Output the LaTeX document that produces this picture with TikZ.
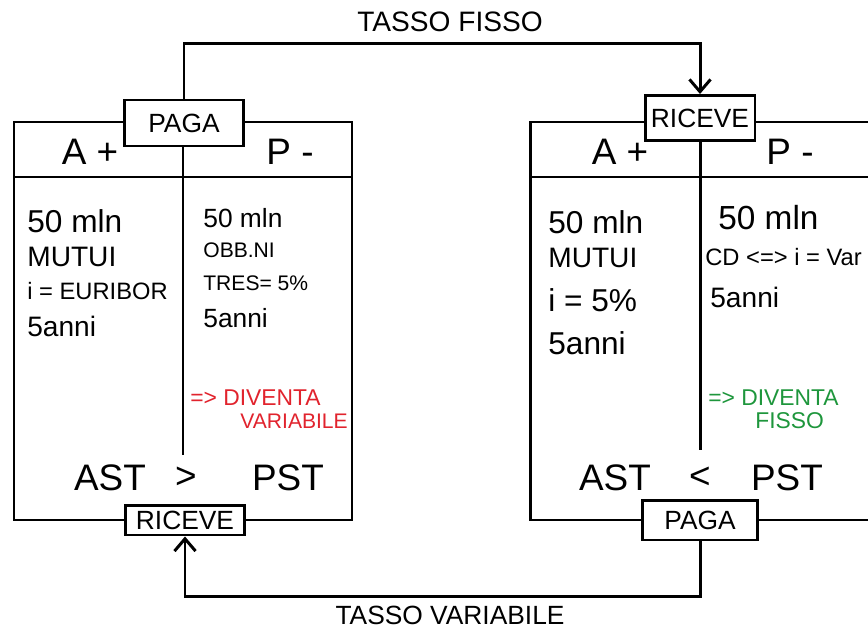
\documentclass[tikz,border=0pt]{standalone}
\usepackage{fontspec}
\setmainfont{Liberation Sans}
\usetikzlibrary{arrows.meta}
\definecolor{redpen}{RGB}{225,35,45}
\definecolor{greenpen}{RGB}{30,150,60}
\begin{document}
\begin{tikzpicture}[x=0.02cm,y=-0.02cm]
		\tikzstyle{frame}=[line width=1.7pt];
		\tikzstyle{tag}=[fill=white, draw=black, line width=1.7pt, inner sep=2pt, font=\fontsize{15}{15}\selectfont];
		\tikzstyle{hdr}=[inner sep=0pt, font=\fontsize{21}{21}\selectfont];
		\tikzstyle{txt}=[anchor=west, inner sep=0pt];
		\tikzstyle{flow}=[line width=1.7pt, -{Straight Barb[length=7pt,width=12pt]}];

		\useasboundingbox (0,0) rectangle (868,628);
		\clip (0,0) rectangle (868,628);

		% bank on the left
		\draw[frame] (14,122) rectangle (352,520);
		\draw[frame] (14,177) -- (352,177);
		\draw[frame] (183,122) -- (183,455);

		% bank on the right
		\draw[frame] (530,122) rectangle (890,520);
		\draw[frame] (530,177) -- (890,177);
		\draw[frame] (700,122) -- (700,450);

		\node[tag, minimum width=2.4cm, minimum height=0.92cm] (pagaL) at (184,123) {PAGA};
		\node[tag, minimum width=2.4cm, minimum height=0.6cm] (riceveL) at (185,520) {RICEVE};
		\node[tag, minimum width=2.2cm, minimum height=0.9cm] (riceveR) at (700,118) {RICEVE};
		\node[tag, minimum width=2.3cm, minimum height=0.8cm] (pagaR) at (700,520) {PAGA};

		% swap legs
		\draw[flow] (pagaL.north) -- ++(0,-55) -| (riceveR.north);
		\draw[flow] (pagaR.south) -- ++(0,55) -| (riceveL.south);
		\node[font=\fontsize{16}{16}\selectfont] (fisso) at (450,22) {TASSO FISSO};
		\node[font=\fontsize{15}{15}\selectfont] (variab) at (450,615) {TASSO VARIABILE};

		% left columns
		\node[hdr] (aL) at (90,152) {A +};
		\node[hdr] (pL) at (290,152) {P -};
		\node[txt, font=\fontsize{18}{18}\selectfont] (l1) at (27,221) {50 mln};
		\node[txt, font=\fontsize{16}{16}\selectfont] (l2) at (27,257) {MUTUI};
		\node[txt, font=\fontsize{13.5}{13.5}\selectfont] (l3) at (27,291) {i = EURIBOR};
		\node[txt, font=\fontsize{16}{16}\selectfont] (l4) at (27,326) {5anni};
		\node[txt, font=\fontsize{15}{15}\selectfont] (r1) at (203,218) {50 mln};
		\node[txt, font=\fontsize{12}{12}\selectfont] (r2) at (203,250) {OBB.NI};
		\node[txt, font=\fontsize{12}{12}\selectfont] (r3) at (203,283) {TRES= 5\%};
		\node[txt, font=\fontsize{15}{15}\selectfont] (r4) at (203,318) {5anni};
		\node[txt, font=\fontsize{13}{13}\selectfont, text=redpen] (var1) at (190,398) {=> DIVENTA};
		\node[txt, font=\fontsize{12}{12}\selectfont, text=redpen] (var2) at (240,421) {VARIABILE};
		\node[hdr] (astL) at (110,478) {AST};
		\node[hdr] (gt) at (186,478) {>};
		\node[hdr] (pstL) at (288,478) {PST};

		% right columns
		\node[hdr] (aR) at (620,152) {A +};
		\node[hdr] (pR) at (790,152) {P -};
		\node[txt, font=\fontsize{18}{18}\selectfont] (l5) at (548,222) {50 mln};
		\node[txt, font=\fontsize{16}{16}\selectfont] (l6) at (548,258) {MUTUI};
		\node[txt, font=\fontsize{18}{18}\selectfont] (l7) at (548,300) {i = 5\%};
		\node[txt, font=\fontsize{18}{18}\selectfont] (l8) at (548,343) {5anni};
		\node[txt, font=\fontsize{19}{19}\selectfont] (r5) at (718,218) {50 mln};
		\node[txt, font=\fontsize{13.5}{13.5}\selectfont] (r6) at (705,257) {CD <=> i = Var};
		\node[txt, font=\fontsize{16}{16}\selectfont] (r7) at (710,297) {5anni};
		\node[txt, font=\fontsize{13}{13}\selectfont, text=greenpen] (fix1) at (708,398) {=> DIVENTA};
		\node[txt, font=\fontsize{13}{13}\selectfont, text=greenpen] (fix2) at (755,421) {FISSO};
		\node[hdr] (astR) at (615,478) {AST};
		\node[hdr] (lt) at (700,478) {<};
		\node[hdr] (pstR) at (787,478) {PST};
        \end{tikzpicture}
\end{document}
